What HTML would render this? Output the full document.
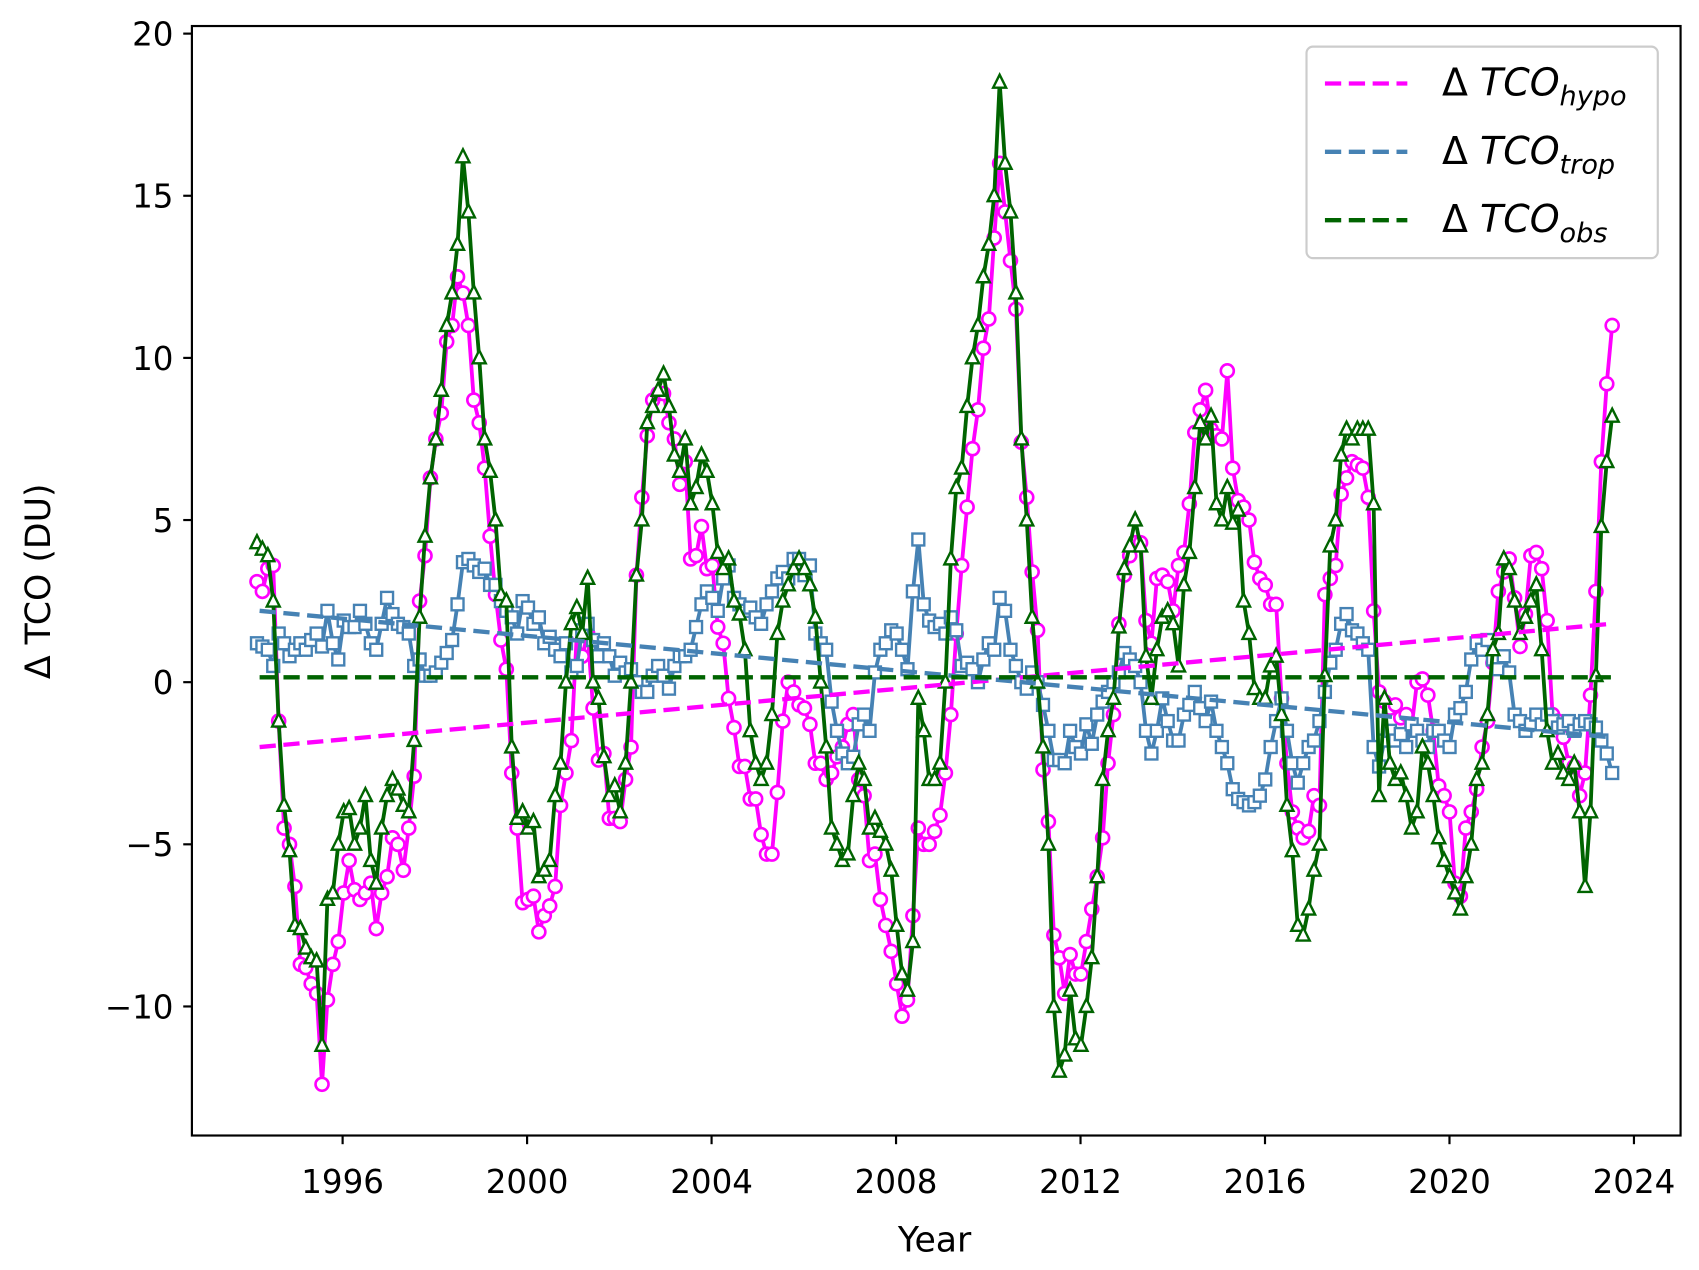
<!DOCTYPE html>
<html><head><meta charset="utf-8"><style>
html,body{margin:0;padding:0;background:#fff;}
svg{display:block;font-family:"DejaVu Sans","Liberation Sans",sans-serif;}
</style></head><body>
<svg id="chart" width="1699" height="1270" viewBox="0 0 1567 1171" preserveAspectRatio="none" xmlns="http://www.w3.org/2000/svg">
<rect x="0" y="0" width="1567" height="1171" fill="#fff"/>
<g id="series"></g>
<rect x="177" y="24" width="1373" height="1023" fill="none" stroke="#000" stroke-width="2"/>
<g id="axes"></g>
<text x="862" y="1154" font-size="32" text-anchor="middle">Year</text>
<text transform="translate(46,536) rotate(-90)" font-size="32" text-anchor="middle">Δ TCO (DU)</text>
<g>
<rect x="1205" y="43" width="324" height="195" rx="6" fill="#fff" stroke="#ccc" stroke-width="2"/>
<g>
<line x1="1222" y1="77" x2="1298" y2="77" stroke="#ff00ff" stroke-width="4" stroke-dasharray="15,7"/>
<text x="1330" y="88" font-size="35">Δ <tspan font-style="italic">TCO</tspan><tspan font-style="italic" font-size="25" dy="9">hypo</tspan></text>
</g>
<g>
<line x1="1222" y1="140" x2="1298" y2="140" stroke="#4682b4" stroke-width="4" stroke-dasharray="15,7"/>
<text x="1330" y="151" font-size="35">Δ <tspan font-style="italic">TCO</tspan><tspan font-style="italic" font-size="25" dy="9">trop</tspan></text>
</g>
<g>
<line x1="1222" y1="203" x2="1298" y2="203" stroke="#006400" stroke-width="4" stroke-dasharray="15,7"/>
<text x="1330" y="214" font-size="35">Δ <tspan font-style="italic">TCO</tspan><tspan font-style="italic" font-size="25" dy="9">obs</tspan></text>
</g>
</g>
</svg>
<script>
const startYear = 1994.143;
const stepYears = 0.11754;
const xTicks = [1996, 2000, 2004, 2008, 2012, 2016, 2020, 2024];
const yTicks = [-10, -5, 0, 5, 10, 15, 20];
const yTickLabels = ["\u221210", "\u22125", "0", "5", "10", "15", "20"];
const obsValues = [
4.3,4.1,3.9,2.5,-1.2,-3.8,-5.2,-7.5,-7.6,-8.2,
-8.5,-8.6,-11.2,-6.7,-6.5,-5,-4,-3.9,-5,-4.5,
-3.5,-5.5,-6.2,-4.5,-3.5,-3,-3.3,-3.8,-4,-1.8,
2,4.5,6.3,7.5,9,11,12,13.5,16.2,14.5,
12,10,7.5,6.5,5,2.7,2.5,-2,-4.2,-4,
-4.5,-4.3,-6,-5.8,-5.5,-3.5,-2.5,0,1.8,2.3,
1.5,3.2,0,-0.5,-2.3,-3.5,-3.2,-4,-2.5,0,
3.3,5,8,8.5,9,9.5,8.5,7,6.5,7.5,
5.5,6,7,6.5,5.5,4,3.5,3.8,2.5,2.1,
1,-1.5,-2.5,-3,-2.5,-1,1.5,2.5,3,3.5,
3.8,3.5,3,2,0,-2,-4.5,-5,-5.5,-5.3,
-3.5,-2.5,-3,-4.5,-4.2,-4.6,-5,-5.8,-7.5,-9,
-9.5,-8,-0.5,-1.5,-3,-3,-2.5,0,3.8,6,
6.6,8.5,10,11,12.5,13.5,15,18.5,16,14.5,
12,7.5,5,2,0,-2,-5,-10,-12,-11.5,
-9.5,-11,-11.2,-10,-8.5,-6,-3,-1.5,-0.5,1.7,
3.5,4.2,5,4.2,0.8,-0.5,1,2,2.2,1.8,
0.5,3,4,6,8,7.5,8.2,5.5,5,6,
4.9,5.3,2.5,1.5,-0.2,-0.5,-0.5,0.5,0.8,-1,
-3.8,-5.2,-7.5,-7.8,-7,-5.8,-5,0.2,4.2,5,
7,7.8,7.5,7.8,7.8,7.8,5.5,-3.5,-0.5,-2.5,
-3,-2.8,-3.5,-4.5,-4,-2,-2.5,-3.5,-4.8,-5.5,
-6,-6.5,-7,-6,-5,-3,-2.5,-1,1,1.5,
3.8,3.5,2.5,1.5,2,2.5,3,1,-1.5,-2.5,
-2.2,-2.8,-3,-2.5,-4,-6.3,-4,0.2,4.8,6.8,
8.2];
const hypoValues = [
3.1,2.8,3.5,3.6,-1.2,-4.5,-5,-6.3,-8.7,-8.8,
-9.3,-9.6,-12.4,-9.8,-8.7,-8,-6.5,-5.5,-6.4,-6.7,
-6.5,-6.2,-7.6,-6.5,-6,-4.8,-5,-5.8,-4.5,-2.9,
2.5,3.9,6.3,7.5,8.3,10.5,11,12.5,12,11,
8.7,8,6.6,4.5,2.7,1.3,0.4,-2.8,-4.5,-6.8,
-6.7,-6.6,-7.7,-7.2,-6.9,-6.3,-3.8,-2.8,-1.8,1.5,
0.8,1.5,-0.8,-2.4,-2.2,-4.2,-4.2,-4.3,-3,-2,
3.3,5.7,7.6,8.7,8.9,8.9,8,7.5,6.1,6.8,
3.8,3.9,4.8,3.5,3.6,1.7,1.2,-0.5,-1.4,-2.6,
-2.6,-3.6,-3.6,-4.7,-5.3,-5.3,-3.4,-1.2,0,-0.3,
-0.7,-0.8,-1.3,-2.5,-2.5,-3,-2.8,-2.3,-2,-1.3,
-1,-3,-3.5,-5.5,-5.3,-6.7,-7.5,-8.3,-9.3,-10.3,
-9.8,-7.2,-4.5,-5,-5,-4.6,-4.1,-2.8,-1,1.5,
3.6,5.4,7.2,8.4,10.3,11.2,13.7,16,14.5,13,
11.5,7.4,5.7,3.4,1.6,-2.7,-4.3,-7.8,-8.5,-9.6,
-8.4,-9,-9,-8,-7,-6,-4.8,-2.5,-1,1.8,
3.3,3.9,4.3,4.3,1.9,1.2,3.2,3.3,3.1,2.2,
3.6,4,5.5,7.7,8.4,9,7.8,7.6,7.5,9.6,
6.6,5.6,5.4,5,3.7,3.2,3,2.4,2.4,-0.5,
-2.5,-4,-4.5,-4.8,-4.6,-3.5,-3.8,2.7,3.2,3.6,
5.8,6.3,6.8,6.7,6.6,5.7,2.2,-0.3,-0.6,-0.8,
-0.7,-1.1,-1,-1.4,0,0.1,-0.4,-1.5,-3.2,-3.5,
-4,-6.2,-6.6,-4.5,-4,-3.3,-2,-1.2,0.6,2.8,
3.4,3.8,2.6,1.1,2.1,3.9,4,3.5,1.9,-1,
-1.2,-1.7,-2.5,-2.6,-3.5,-2.8,-0.4,2.8,6.8,9.2,
11];
const tropValues = [
1.2,1.1,1.0,0.5,1.5,1.2,0.8,1.0,1.2,1.0,
1.3,1.5,1.1,2.2,1.2,0.7,1.9,1.7,1.7,2.2,
1.8,1.2,1.0,1.8,2.6,2.1,1.8,1.7,1.5,0.5,
0.7,0.2,0.2,0.3,0.6,0.9,1.3,2.4,3.7,3.8,
3.6,3.4,3.5,3.0,3.0,2.5,2.2,2.0,1.5,2.5,
2.3,1.8,2.0,1.2,1.4,1.0,0.8,1.2,0.3,0.5,
1.6,1.8,1.3,0.8,1.2,0.8,0.2,0.6,0.3,0.4,
0.0,-0.3,-0.3,0.2,0.5,0.2,-0.2,0.5,0.8,0.8,
1.0,1.7,2.4,2.8,2.6,2.2,3.2,3.6,2.6,2.4,
2.2,2.3,2.0,1.8,2.4,2.8,3.2,3.4,3.2,3.8,
3.8,3.3,3.6,1.5,1.2,1.0,-0.6,-1.5,-2.2,-2.5,
-2.3,-1.3,-1.0,-1.5,0.3,1.0,1.2,1.6,1.5,1.0,
0.4,2.8,4.4,2.4,1.9,1.7,1.8,1.5,2.0,1.6,
0.5,0.6,0.4,0.0,0.7,1.2,1.0,2.6,2.2,1.0,
0.5,0.0,-0.2,0.3,0.0,-0.7,-1.5,-2.4,-2.4,-2.5,
-1.5,-2.0,-2.2,-1.3,-1.9,-1.0,-0.6,-0.3,0.0,0.3,
0.9,0.7,0.5,0.0,-1.5,-2.2,-1.5,-0.5,-1.2,-1.8,
-1.8,-1.0,-0.7,-0.3,-0.8,-1.2,-0.6,-1.5,-2.0,-2.5,
-3.3,-3.6,-3.7,-3.8,-3.7,-3.5,-3.0,-2.0,-1.2,-0.5,
-1.5,-2.5,-3.1,-2.5,-2.0,-1.8,-1.2,-0.3,0.6,1.0,
1.8,2.1,1.6,1.5,1.2,1.0,-2.0,-2.6,-1.8,-1.5,
-1.8,-1.6,-2.0,-1.3,-1.5,-1.8,-2.0,-1.5,-1.5,-1.8,
-2.0,-1.0,-0.8,-0.3,0.7,1.2,1.0,1.3,0.7,0.4,
0.8,0.3,-1.0,-1.2,-1.5,-1.3,-1.0,-1.3,-1.0,-1.2,
-1.4,-1.3,-1.2,-1.5,-1.3,-1.2,-1.3,-1.4,-1.8,-2.2,
-2.8];
const trendYears = [1994.2, 2023.5];
const hypoTrend = [-2.0, 1.8];
const tropTrend = [2.2, -1.7];
const obsTrend = [0.15, 0.15];

const NS = "http://www.w3.org/2000/svg";
function xScale(yr){ return 316 + (yr - 1996) * 42.536; }
function yScale(v){ return 629 - v * 29.9; }
function yearOf(i){ return startYear + i * stepYears; }
function mk(tag, attrs, parent){ const e=document.createElementNS(NS,tag); for(const k in attrs) e.setAttribute(k,attrs[k]); parent.appendChild(e); return e; }

const axes = document.getElementById('axes');
xTicks.forEach(t=>{
  const x = xScale(t);
  const tk = mk('line',{x1:x,y1:1047,x2:x,y2:1055,stroke:'#000','stroke-width':2},axes);
  
  
  const lb = mk('text',{x:x,y:1100,'font-size':30,'text-anchor':'middle'},axes);
  
  
  lb.textContent = t;
});
yTicks.forEach((t,i)=>{
  const y = yScale(t);
  const tk = mk('line',{x1:169,y1:y,x2:177,y2:y,stroke:'#000','stroke-width':2},axes);
  
  
  const lb = mk('text',{x:160,y:y+11,'font-size':30,'text-anchor':'end'},axes);
  
  
  lb.textContent = yTickLabels[i];
});

const sg = document.getElementById('series');
function drawSeries(vals, color, shape, name){
  const g = mk('g',{},sg);
  
  
  const pts = vals.map((v,i)=>xScale(yearOf(i)).toFixed(1)+','+yScale(v).toFixed(1)).join(' ');
  const pl = mk('polyline',{points:pts,fill:'none',stroke:color,'stroke-width':3.5,'stroke-linejoin':'round'},g);
  
  
  vals.forEach((v,i)=>{
    const x = xScale(yearOf(i)), y = yScale(v);
    let m;
    if(shape==='circle') m = mk('circle',{cx:x,cy:y,r:6,fill:'#fff',stroke:color,'stroke-width':2.4},g);
    else if(shape==='square') m = mk('rect',{x:x-5.5,y:y-5.5,width:11,height:11,fill:'#fff',stroke:color,'stroke-width':2.2},g);
    else m = mk('polygon',{points:`${x},${y-7} ${x-6},${y+5} ${x+6},${y+5}`,fill:'#fff',stroke:color,'stroke-width':2.2},g);
    
    
  });
}
function drawTrend(vals, color, name){
  const l = mk('line',{x1:xScale(trendYears[0]),y1:yScale(vals[0]),x2:xScale(trendYears[1]),y2:yScale(vals[1]),stroke:color,'stroke-width':4,'stroke-dasharray':'15,7'},sg);
  
  
}
drawSeries(hypoValues,'#ff00ff','circle','hypo-series');
drawSeries(tropValues,'#4682b4','square','trop-series');
drawSeries(obsValues,'#006400','triangle','obs-series');
drawTrend(hypoTrend,'#ff00ff','hypo-trend');
drawTrend(tropTrend,'#4682b4','trop-trend');
drawTrend(obsTrend,'#006400','obs-trend');
</script>
</body></html>
